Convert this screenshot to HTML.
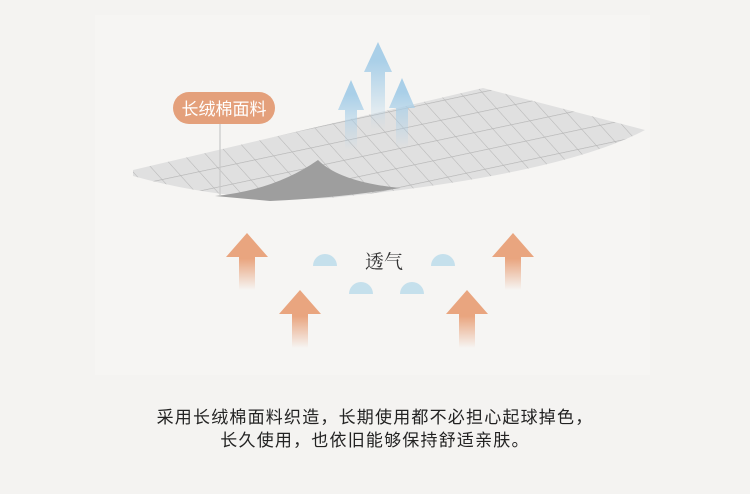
<!DOCTYPE html>
<html><head><meta charset="utf-8"><style>
html,body{margin:0;padding:0;background:#f4f3f1;width:750px;height:494px;overflow:hidden;font-family:"Liberation Sans","Noto Sans CJK SC",sans-serif}
.t{position:absolute;left:0;width:750px;text-align:center;color:#222;font-size:17px;letter-spacing:1.2px;line-height:23px}
</style></head><body>
<svg width="750" height="494" style="position:absolute;left:0;top:0">
<defs>
<linearGradient id="og" x1="0" y1="0" x2="0" y2="1"><stop offset="0.45" stop-color="#e9a57f"/><stop offset="1" stop-color="#e9a57f" stop-opacity="0"/></linearGradient>
<linearGradient id="bg" x1="0" y1="0" x2="0" y2="1"><stop offset="0.2" stop-color="#a9cfe8"/><stop offset="1" stop-color="#a9cfe8" stop-opacity="0"/></linearGradient>
<pattern id="grid" width="19" height="19" patternUnits="userSpaceOnUse" patternTransform="rotate(-12) skewX(30)"><rect width="19" height="19" fill="#e0e0e0"/><path d="M0 0H19M0 0V19" stroke="#b5b5b5" stroke-width="1.2"/></pattern>
</defs>
<rect x="95" y="15" width="555" height="360" fill="#f6f5f3"/>
<path d="M133 170 L483 88 L645 130 Q560 175 330 198 Q230 203 133 176 Z" fill="url(#grid)"/>
<path d="M215 196 Q275 190 318 160 Q340 182 400 188 Q340 198 270 201 Z" fill="#9e9e9e"/>
<path d="M378 42 L392 72 L385 72 L385 130 L371 130 L371 72 L364 72 Z" fill="url(#bg)"/>
<path d="M351 80 L364 110 L357 110 L357 150 L345 150 L345 110 L338 110 Z" fill="url(#bg)"/>
<path d="M402 78 L415 108 L408 108 L408 148 L396 148 L396 108 L389 108 Z" fill="url(#bg)"/>
<line x1="220" y1="122" x2="220" y2="196" stroke="#c8c8c8" stroke-width="1.2"/>
<rect x="173" y="92" width="102" height="32" rx="16" fill="#e4a07b"/>
<text x="224" y="115" text-anchor="middle" font-size="17" fill="#fff" font-family="Noto Sans CJK SC,sans-serif">长绒棉面料</text>
<path d="M247 233 L268 257 L255 257 L255 290 L239 290 L239 257 L226 257 Z" fill="url(#og)"/>
<path d="M513 233 L534 257 L521 257 L521 290 L505 290 L505 257 L492 257 Z" fill="url(#og)"/>
<path d="M300 290 L321 314 L308 314 L308 348 L292 348 L292 314 L279 314 Z" fill="url(#og)"/>
<path d="M467 290 L488 314 L475 314 L475 348 L459 348 L459 314 L446 314 Z" fill="url(#og)"/>
<g fill="#c5e0ec">
<path d="M313 266 A12 12 0 0 1 337 266 Z"/>
<path d="M431 266 A12 12 0 0 1 455 266 Z"/>
<path d="M349 294 A12 12 0 0 1 373 294 Z"/>
<path d="M400 294 A12 12 0 0 1 424 294 Z"/>
</g>
<text x="384" y="268" text-anchor="middle" font-size="19" fill="#333" font-family="Noto Serif CJK SC,serif">透气</text>
</svg>
<div class="t" style="top:406px">采用长绒棉面料织造，长期使用都不必担心起球掉色，</div>
<div class="t" style="top:429px">长久使用，也依旧能够保持舒适亲肤。</div>
</body></html>
